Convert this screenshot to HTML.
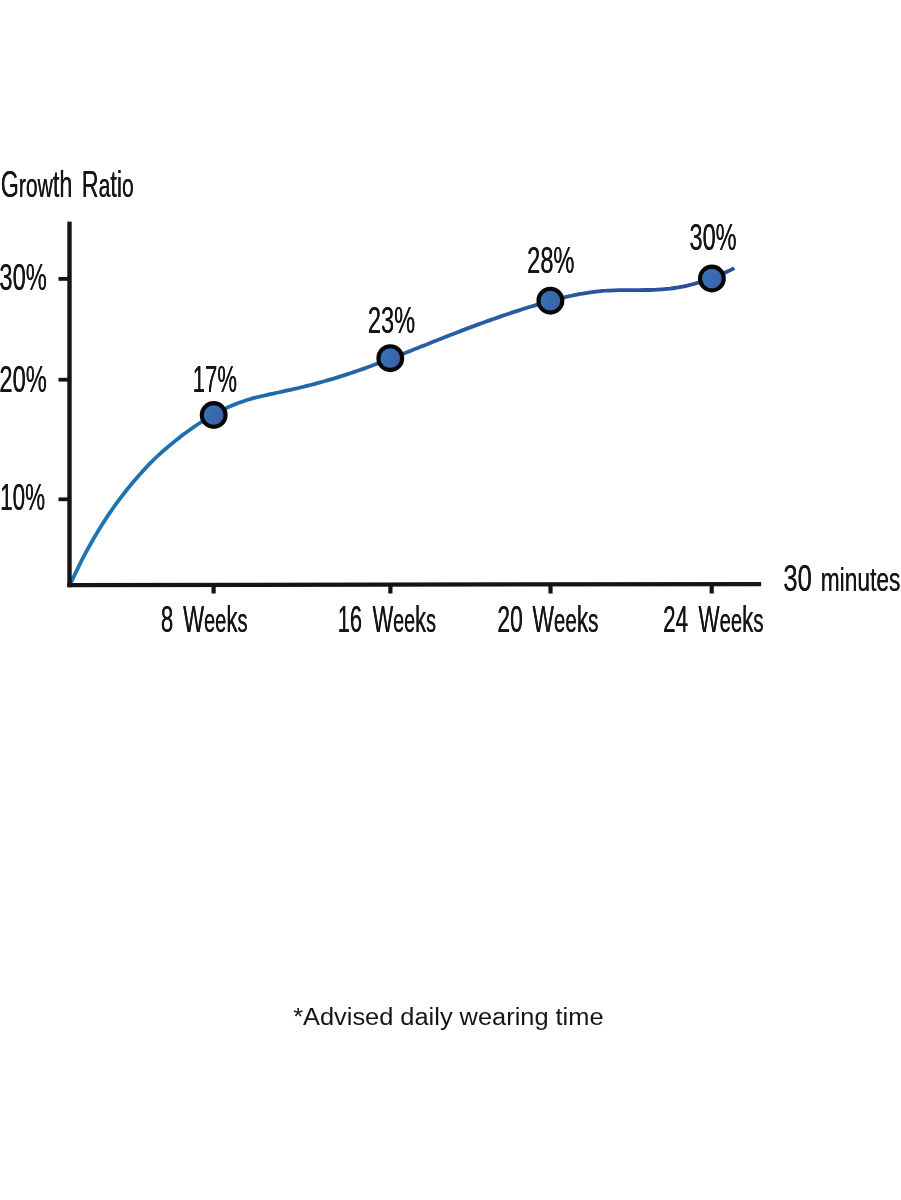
<!DOCTYPE html>
<html lang="en">
<head>
<meta charset="utf-8">
<title>Growth Ratio</title>
<style>
html,body{margin:0;padding:0;background:#fff;}
body{width:901px;height:1200px;overflow:hidden;position:relative;font-family:"Liberation Sans", sans-serif;}
svg{position:absolute;left:0;top:0;display:block;}
svg text{font-family:"Liberation Sans", sans-serif;fill:#151515;}
</style>
</head>
<body>
<svg width="901" height="1200" viewBox="0 0 901 1200">
<defs>
<linearGradient id="lg" gradientUnits="userSpaceOnUse" x1="70" y1="0" x2="735" y2="0">
<stop offset="0" stop-color="#1c76b3"/>
<stop offset="0.45" stop-color="#2563a6"/>
<stop offset="1" stop-color="#2d4b9a"/>
</linearGradient>
<linearGradient id="cg" x1="0" y1="0" x2="1" y2="0.35">
<stop offset="0" stop-color="#2e7ab9"/>
<stop offset="1" stop-color="#3f60a8"/>
</linearGradient>
<filter id="aa" x="0" y="0" width="901" height="1200" filterUnits="userSpaceOnUse"><feOffset dx="0" dy="0"/></filter>
</defs>
<rect width="901" height="1200" fill="#ffffff"/>
<path d="M70.3 584.3 C71.6 581.4 75.6 572.7 78.3 567.3 C81.0 561.8 83.6 556.6 86.3 551.7 C89.0 546.7 91.6 541.9 94.3 537.4 C97.0 532.8 99.6 528.4 102.3 524.2 C105.0 520.0 107.6 516.0 110.3 512.1 C113.0 508.2 115.6 504.5 118.3 500.9 C121.0 497.3 123.6 493.9 126.3 490.5 C129.0 487.2 131.6 483.9 134.3 480.8 C137.0 477.7 139.6 474.6 142.3 471.7 C145.0 468.7 147.6 465.8 150.3 463.1 C153.0 460.4 155.6 457.8 158.3 455.4 C161.0 452.9 163.6 450.6 166.3 448.3 C169.0 446.0 171.6 443.8 174.3 441.6 C177.0 439.5 179.6 437.4 182.3 435.3 C185.0 433.3 187.6 431.4 190.3 429.5 C193.0 427.6 195.6 425.7 198.3 424.0 C201.0 422.2 203.6 420.5 206.3 418.9 C209.0 417.3 211.6 415.7 214.3 414.2 C217.0 412.8 219.6 411.3 222.3 410.0 C225.0 408.7 227.6 407.4 230.3 406.3 C233.0 405.1 235.6 404.0 238.3 403.0 C241.0 402.0 243.6 401.1 246.3 400.2 C249.0 399.4 251.6 398.6 254.3 397.9 C257.0 397.2 259.6 396.6 262.3 396.0 C265.0 395.4 267.6 394.8 270.3 394.2 C273.0 393.6 275.6 393.1 278.3 392.5 C281.0 391.9 283.6 391.3 286.3 390.7 C289.0 390.1 291.6 389.5 294.3 388.9 C297.0 388.3 299.6 387.7 302.3 387.0 C305.0 386.4 307.6 385.7 310.3 385.0 C313.0 384.4 315.6 383.7 318.3 382.9 C321.0 382.2 323.6 381.5 326.3 380.7 C329.0 380.0 331.6 379.2 334.3 378.4 C337.0 377.6 339.6 376.7 342.3 375.9 C345.0 375.0 347.6 374.2 350.3 373.3 C353.0 372.4 355.6 371.5 358.3 370.5 C361.0 369.6 363.6 368.7 366.3 367.7 C369.0 366.7 371.6 365.8 374.3 364.8 C377.0 363.8 379.6 362.8 382.3 361.8 C385.0 360.8 387.6 359.8 390.3 358.7 C393.0 357.7 395.6 356.7 398.3 355.6 C401.0 354.6 403.6 353.5 406.3 352.5 C409.0 351.4 411.6 350.4 414.3 349.3 C417.0 348.2 419.6 347.2 422.3 346.1 C425.0 345.1 427.6 344.0 430.3 342.9 C433.0 341.9 435.6 340.8 438.3 339.8 C441.0 338.7 443.6 337.7 446.3 336.6 C449.0 335.6 451.6 334.5 454.3 333.5 C457.0 332.5 459.6 331.4 462.3 330.4 C465.0 329.4 467.6 328.4 470.3 327.4 C473.0 326.4 475.6 325.4 478.3 324.4 C481.0 323.4 483.6 322.5 486.3 321.5 C489.0 320.6 491.6 319.6 494.3 318.7 C497.0 317.7 499.6 316.8 502.3 315.9 C505.0 315.0 507.6 314.1 510.3 313.2 C513.0 312.3 515.6 311.4 518.3 310.6 C521.0 309.7 523.6 308.9 526.3 308.0 C529.0 307.2 531.6 306.4 534.3 305.6 C537.0 304.8 539.6 304.0 542.3 303.2 C545.0 302.5 547.6 301.7 550.3 301.0 C553.0 300.3 555.6 299.6 558.3 298.9 C561.0 298.2 563.6 297.5 566.3 296.9 C569.0 296.3 571.6 295.7 574.3 295.1 C577.0 294.6 579.6 294.0 582.3 293.6 C585.0 293.1 587.6 292.7 590.3 292.3 C593.0 291.9 595.6 291.6 598.3 291.3 C601.0 291.0 603.6 290.8 606.3 290.7 C609.0 290.5 611.6 290.4 614.3 290.3 C617.0 290.2 619.6 290.2 622.3 290.1 C625.0 290.1 627.6 290.1 630.3 290.1 C633.0 290.1 635.6 290.1 638.3 290.1 C641.0 290.1 643.6 290.1 646.3 290.0 C649.0 290.0 651.6 289.9 654.3 289.8 C657.0 289.7 659.6 289.5 662.3 289.3 C665.0 289.1 667.6 288.9 670.3 288.6 C673.0 288.2 675.6 287.8 678.3 287.4 C681.0 286.9 683.6 286.4 686.3 285.8 C689.0 285.2 691.6 284.6 694.3 283.8 C697.0 283.1 699.6 282.3 702.3 281.5 C705.0 280.6 707.6 279.7 710.3 278.7 C713.0 277.7 715.6 276.7 718.3 275.6 C721.0 274.4 723.6 273.3 726.3 272.0 C729.0 270.8 733.0 268.8 734.3 268.1" fill="none" stroke="url(#lg)" stroke-width="3.8" stroke-linecap="butt" stroke-linejoin="round"/>
<g fill="#141414">
<rect x="67.3" y="221.6" width="4.4" height="365.6"/>
<polygon points="67.3,583 761.1,582 761.1,586.2 67.3,587.2"/>
<rect x="58.5" y="277.0" width="10" height="3.8"/>
<rect x="58.5" y="377.8" width="10" height="3.8"/>
<rect x="58.5" y="497.4" width="10" height="3.8"/>
<rect x="211.5" y="585" width="4.2" height="8.5"/>
<rect x="388.3" y="585" width="4.2" height="8.5"/>
<rect x="548.4" y="585" width="4.2" height="8.5"/>
<rect x="709.6" y="585" width="4.2" height="8.5"/>
</g>
<circle cx="213.7" cy="415.0" r="11.9" fill="url(#cg)" stroke="#060606" stroke-width="4.1"/>
<circle cx="390.3" cy="358.2" r="11.9" fill="url(#cg)" stroke="#060606" stroke-width="4.1"/>
<circle cx="550.4" cy="300.7" r="11.9" fill="url(#cg)" stroke="#060606" stroke-width="4.1"/>
<circle cx="711.9" cy="278.5" r="11.9" fill="url(#cg)" stroke="#060606" stroke-width="4.1"/>
<g filter="url(#aa)">
<text id="t0" transform="translate(0.65 197.00) scale(0.6301 1)" font-size="37.00" word-spacing="4.74">G<tspan font-size="33.5">row</tspan>th R<tspan font-size="33.5">a</tspan>ti<tspan font-size="33.5">o</tspan></text><use href="#t0" transform="translate(0.20 0)"/>
<text id="t1" transform="translate(-0.70 290.00) scale(0.6404 1)" font-size="37.00">30%</text><use href="#t1" transform="translate(0.20 0)"/>
<text id="t2" transform="translate(-0.70 392.00) scale(0.6407 1)" font-size="37.00">20%</text><use href="#t2" transform="translate(0.20 0)"/>
<text id="t3" transform="translate(0.05 510.00) scale(0.6075 1)" font-size="37.00">10%</text><use href="#t3" transform="translate(0.20 0)"/>
<text id="t4" transform="translate(160.80 632.00) scale(0.6008 1)" font-size="37.00" word-spacing="5.98">8 W<tspan font-size="33.5">ee</tspan>k<tspan font-size="33.5">s</tspan></text><use href="#t4" transform="translate(0.20 0)"/>
<text id="t5" transform="translate(337.65 632.00) scale(0.5900 1)" font-size="37.00" word-spacing="7.55">16 W<tspan font-size="33.5">ee</tspan>k<tspan font-size="33.5">s</tspan></text><use href="#t5" transform="translate(0.20 0)"/>
<text id="t6" transform="translate(497.30 632.00) scale(0.6143 1)" font-size="37.00" word-spacing="5.70">20 W<tspan font-size="33.5">ee</tspan>k<tspan font-size="33.5">s</tspan></text><use href="#t6" transform="translate(0.20 0)"/>
<text id="t7" transform="translate(663.00 632.00) scale(0.6051 1)" font-size="37.00" word-spacing="7.10">24 W<tspan font-size="33.5">ee</tspan>k<tspan font-size="33.5">s</tspan></text><use href="#t7" transform="translate(0.20 0)"/>
<text id="t8" transform="translate(783.30 591.00) scale(0.6890 1)" font-size="37.00" word-spacing="2.81">30 <tspan font-size="33">minutes</tspan></text><use href="#t8" transform="translate(0.20 0)"/>
<text id="t9" transform="translate(192.65 392.00) scale(0.5963 1)" font-size="37.00">17%</text><use href="#t9" transform="translate(0.20 0)"/>
<text id="t10" transform="translate(367.75 333.00) scale(0.6388 1)" font-size="37.00">23%</text><use href="#t10" transform="translate(0.20 0)"/>
<text id="t11" transform="translate(527.05 273.00) scale(0.6397 1)" font-size="37.00">28%</text><use href="#t11" transform="translate(0.20 0)"/>
<text id="t12" transform="translate(689.40 250.00) scale(0.6361 1)" font-size="37.00">30%</text><use href="#t12" transform="translate(0.20 0)"/>
<text id="t13" transform="translate(293.15 1025.00) scale(1.0805 1)" font-size="23.50">*Advised daily wearing time</text>
</g>
</svg>
</body>
</html>
